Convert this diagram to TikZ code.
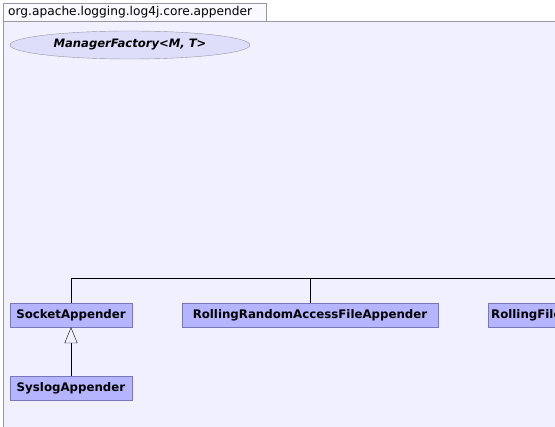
\documentclass[tikz,border=0pt]{standalone}
\usepackage{fontspec}
\setmainfont{DejaVu Sans}
\usetikzlibrary{shapes.geometric,arrows.meta}
\definecolor{pkgback}{RGB}{240,240,255}
\definecolor{pkgline}{RGB}{150,150,165}
\definecolor{classfill}{RGB}{180,180,255}
\definecolor{classline}{RGB}{120,120,185}
\definecolor{ifacefill}{RGB}{222,222,250}
\begin{document}
\begin{tikzpicture}[x=1pt, y=-1pt,
  every node/.style = {font=\fontsize{12.2}{14}\selectfont},
  classbox/.style = {shape=rectangle, draw=classline, fill=classfill,
    minimum height=24pt, inner sep=3pt, font=\fontsize{11.8}{14}\selectfont\bfseries},
  iface/.style = {shape=ellipse, draw=pkgline, fill=ifacefill,
    minimum width=240pt, minimum height=28pt, inner sep=0pt,
    font=\fontsize{11.6}{14}\selectfont\bfseries\itshape},
  inherit/.style = {-{Triangle[open, width=13pt, length=16pt]}, fill=white}]
  \useasboundingbox (0,0) rectangle (555,427);
  \clip (0,0) rectangle (555,427);
  % package frame
  \draw[pkgline, fill=pkgback] (3,21) rectangle (600,460);
  \draw[pkgline, fill=white!60!pkgback] (3,3) rectangle (266,21);
  \node[anchor=west, inner sep=0pt] (pkg) at (8,12) {org.apache.logging.log4j.core.appender};
  % interfaces
  \node[iface] (mgrfactory) at (130,45) {ManagerFactory<M, T>};
  % classes
  \node[classbox, minimum width=122pt] (socket) at (71,315) {SocketAppender};
  \node[classbox, minimum width=256pt] (rraf) at (310,315) {RollingRandomAccessFileAppender};
  \node[classbox, anchor=west] (rolling) at (488,315) {RollingFileAppender};
  \node[classbox, minimum width=122pt] (syslog) at (71,388) {SyslogAppender};
  % connectors
  \coordinate (bus) at (600,278);
  \draw (socket.north) |- (bus);
  \draw (rraf.north) -- (rraf.north |- bus);
  \draw[inherit] (syslog.north) -- (socket.south);
\end{tikzpicture}
\end{document}
